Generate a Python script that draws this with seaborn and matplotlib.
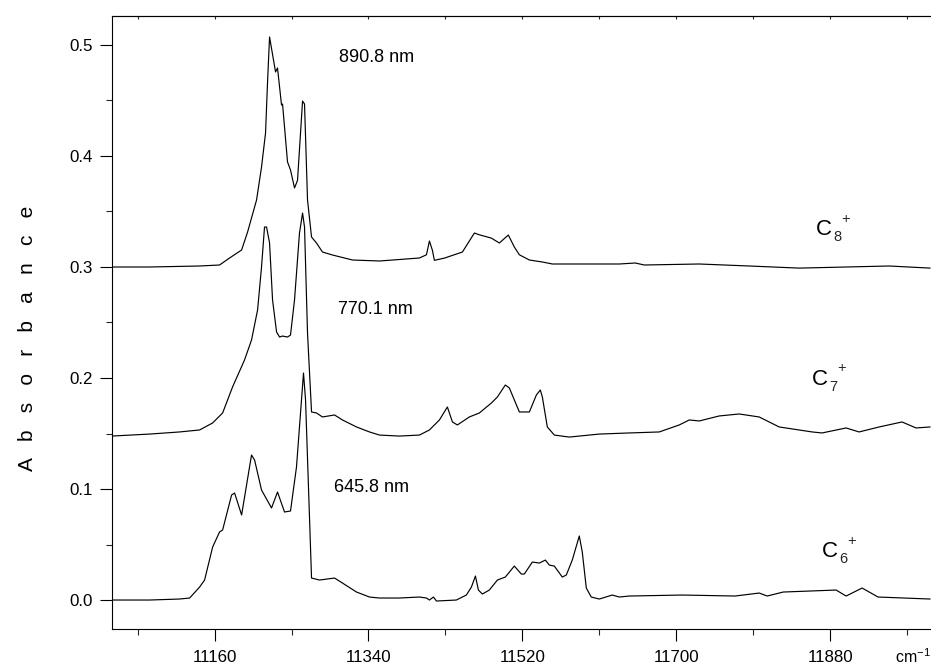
import matplotlib
matplotlib.use("Agg")
import matplotlib.pyplot as plt
import seaborn as sns
import numpy as np
import pandas as pd
from matplotlib.ticker import MultipleLocator, FixedLocator

# ---------------- data ----------------
c8_x = [11039.6, 11084, 11142.5, 11165.8, 11177.5, 11191.6, 11198.6, 11209.1, 11214.9, 11219.6,
        11221.9, 11224.3, 11231.3, 11233.6, 11238.3, 11239.5, 11245.3, 11248.8, 11253.5, 11257,
        11262.9, 11265.2, 11268.7, 11273.4, 11279.2, 11286.2, 11297.9, 11321.3, 11352.9, 11399.6,
        11407.8, 11411.3, 11414.8, 11417.1, 11428.8, 11449.9, 11463.9, 11469.7, 11479.1, 11483.8,
        11493.1, 11503.6, 11510.6, 11516.5, 11528.2, 11543.4, 11555.1, 11633.4, 11652.1, 11662.6,
        11726.9, 11785.3, 11843.8, 11949, 11997]
c8_y = [0.300, 0.300, 0.3009, 0.3018, 0.3081, 0.3153, 0.3315, 0.3604, 0.390, 0.4207,
        0.4658, 0.5072, 0.4757, 0.4793, 0.4459, 0.4468, 0.3946, 0.3874, 0.3712, 0.378,
        0.4495, 0.4468, 0.3604, 0.327, 0.3216, 0.3135, 0.3108, 0.3063, 0.3054, 0.3081,
        0.311, 0.3234, 0.315, 0.306, 0.308, 0.3135, 0.3306, 0.329, 0.327, 0.326,
        0.3216, 0.3288, 0.318, 0.311, 0.3063, 0.3045, 0.3027, 0.3027, 0.3036, 0.3018,
        0.3027, 0.3009, 0.299, 0.3009, 0.299]

c7_x = [11039.6, 11084, 11119, 11142.5, 11157.7, 11169.4, 11181, 11195, 11203.2, 11210.3,
        11214.9, 11218.4, 11220.8, 11224.3, 11227.8, 11232.5, 11236, 11239.5, 11245.3, 11248.8,
        11253.5, 11259.3, 11262.9, 11265.2, 11268.7, 11273.4, 11279.2, 11286.2, 11300.3, 11309.6,
        11326, 11341.2, 11352.9, 11376.2, 11399.6, 11411.3, 11423, 11432.3, 11438.2, 11444,
        11458, 11469.7, 11483.8, 11490.8, 11500.1, 11504.8, 11516.5, 11528.2, 11536.4, 11541,
        11543.4, 11549.2, 11557.4, 11574.9, 11610, 11645, 11680.1, 11703.5, 11715.2, 11726.9,
        11750.2, 11773.6, 11797, 11820.4, 11859, 11870.6, 11898.7, 11913.9, 11937.3, 11964.1,
        11980.5, 11997]
c7_y = [0.1477, 0.1495, 0.1514, 0.1532, 0.1595, 0.1685, 0.1919, 0.2162, 0.2342, 0.2613,
        0.300, 0.336, 0.336, 0.3216, 0.2703, 0.2414, 0.2369, 0.2378, 0.2369, 0.2387,
        0.2703, 0.3306, 0.3486, 0.336, 0.2405, 0.1694, 0.1685, 0.1649, 0.1667, 0.1622,
        0.1559, 0.1514, 0.1486, 0.1477, 0.1486, 0.1532, 0.1622, 0.1739, 0.1604, 0.1577,
        0.1649, 0.1685, 0.1775, 0.1829, 0.1937, 0.191, 0.1694, 0.1694, 0.1847, 0.1892,
        0.1829, 0.1559, 0.1486, 0.1468, 0.1495, 0.1505, 0.1514, 0.1577, 0.1622, 0.1613,
        0.1658, 0.1676, 0.1649, 0.1559, 0.1514, 0.1505, 0.155, 0.1514, 0.1559, 0.1604,
        0.155, 0.1559]

c6_x = [11039.6, 11084, 11119, 11130.8, 11142.5, 11148.3, 11157.7, 11165.8, 11169.4, 11179.9,
        11183.4, 11191.6, 11203.2, 11206.8, 11214.9, 11226.6, 11233.6, 11241.8, 11248.8, 11255.8,
        11264, 11266.4, 11273.4, 11282.7, 11300.3, 11309.6, 11326, 11341.2, 11352.9, 11376.2,
        11399.6, 11407.8, 11411.3, 11416, 11419.5, 11442.8, 11454.5, 11460.4, 11465.1, 11468.6,
        11473.2, 11481.4, 11490.8, 11500.1, 11510.6, 11518.8, 11522.3, 11531.7, 11539.9, 11546.9,
        11551.5, 11557.4, 11566.7, 11571.4, 11578.4, 11586.6, 11590.1, 11594.8, 11600.6, 11610,
        11625.2, 11633.4, 11645, 11707, 11768.9, 11797, 11806.4, 11825.1, 11887, 11898.7,
        11917.4, 11936.1, 11997]
c6_y = [0.0, 0.0, 0.0009, 0.0018, 0.0117, 0.018, 0.0477, 0.0613, 0.0631, 0.0946,
        0.0964, 0.0766, 0.1306, 0.1261, 0.0991, 0.0829, 0.0973, 0.0793, 0.0802, 0.1198,
        0.2045, 0.1802, 0.0198, 0.018, 0.0198, 0.0153, 0.0072, 0.0027, 0.0018, 0.0018,
        0.0027, 0.0018, 0.0, 0.0027, -0.0009, 0.0, 0.0045, 0.0117, 0.0216, 0.009,
        0.0054, 0.009, 0.018, 0.0207, 0.0306, 0.0234, 0.0234, 0.0342, 0.0333, 0.036,
        0.0315, 0.0306, 0.0207, 0.0225, 0.036, 0.0577, 0.0432, 0.0108, 0.0027, 0.0009,
        0.0045, 0.0027, 0.0036, 0.0045, 0.0036, 0.0063, 0.0036, 0.0072, 0.009, 0.0036,
        0.0108, 0.0027, 0.0009]

x_major = [11160, 11340, 11520, 11700, 11880]
x_minor = [11070, 11250, 11430, 11610, 11790, 11970]
y_major = [0.0, 0.1, 0.2, 0.3, 0.4, 0.5]
y_labels = ["0.0", "0.1", "0.2", "0.3", "0.4", "0.5"]

wavelengths = ["890.8 nm", "770.1 nm", "645.8 nm"]
wl_pos = [(11306, 0.4883), (11304, 0.2613), (11300, 0.1010)]
species_main = ["C", "C", "C"]
species_sub = ["8", "7", "6"]
sp_pos = [(11863.6, 0.3288), (11859, 0.1937), (11870.6, 0.0387)]

# ---------------- plotting ----------------
sns.set_style("ticks")
plt.rcParams["font.family"] = ["Liberation Sans", "DejaVu Sans"]
plt.rcParams["mathtext.fontset"] = "custom"
plt.rcParams["mathtext.rm"] = "Liberation Sans"
plt.rcParams["mathtext.it"] = "Liberation Sans"

fig = plt.figure(figsize=(9.31, 6.66), dpi=100)
ax = fig.add_axes([112 / 931, 1 - 629 / 666, 1 - 112 / 931, (629 - 16) / 666])

for xs, ys in [(c8_x, c8_y), (c7_x, c7_y), (c6_x, c6_y)]:
    df = pd.DataFrame({"x": xs, "y": ys})
    sns.lineplot(data=df, x="x", y="y", ax=ax, color="black", linewidth=0.85,
                 estimator=None, sort=False)

ax.set_xlim(11040, 11998)
ax.set_ylim(-0.0261, 0.5261)

ax.xaxis.set_major_locator(FixedLocator(x_major))
ax.xaxis.set_minor_locator(FixedLocator(x_minor))
ax.set_xticklabels([str(v) for v in x_major])
ax.yaxis.set_major_locator(FixedLocator(y_major))
ax.yaxis.set_minor_locator(MultipleLocator(0.05))
ax.set_yticklabels(y_labels)

ax.tick_params(axis="both", which="major", direction="out", length=8.6, width=0.8,
               labelsize=12.2, pad=5.5, colors="black")
ax.tick_params(axis="both", which="minor", direction="out", length=4.3, width=0.8)
ax.xaxis.set_tick_params(which="major", pad=6.5)
ax.tick_params(axis="x", which="both", top=False)

for s in ["left", "bottom", "top"]:
    ax.spines[s].set_linewidth(0.8)
    ax.spines[s].set_color("black")
ax.spines["right"].set_visible(False)

sec = ax.secondary_xaxis("top")
sec.xaxis.set_major_locator(FixedLocator(x_major + x_minor))
sec.tick_params(direction="in", length=2.5, width=0.8, labeltop=False)
sec.spines["top"].set_linewidth(0.8)

ax.set_xlabel("")
ax.set_ylabel("")

for t, (xx, yy) in zip(wavelengths, wl_pos):
    ax.text(xx, yy, t, fontsize=13, ha="left", va="center", color="black")

for m, sub, (xx, yy) in zip(species_main, species_sub, sp_pos):
    tC = ax.text(xx, yy, m, fontsize=16, ha="left", va="baseline", color="black")
    ax.annotate(sub, xy=(xx, yy), xycoords="data", xytext=(12.5, -4.5),
                textcoords="offset points", fontsize=10.5, ha="left", va="baseline")
    ax.annotate("+", xy=(xx, yy), xycoords="data", xytext=(18, 9),
                textcoords="offset points", fontsize=10.5, ha="left", va="baseline")

fig.text(895 / 931, 1 - 663 / 666, "cm$^{\\mathregular{-1}}$", fontsize=11.5,
         ha="left", va="baseline", color="black")

fig.text(28 / 931, 1 - 338 / 666, "A   b   s   o   r   b   a   n   c   e",
         rotation=90, fontsize=15, ha="center", va="center", color="black")

fig.savefig("out.png", dpi=100)
